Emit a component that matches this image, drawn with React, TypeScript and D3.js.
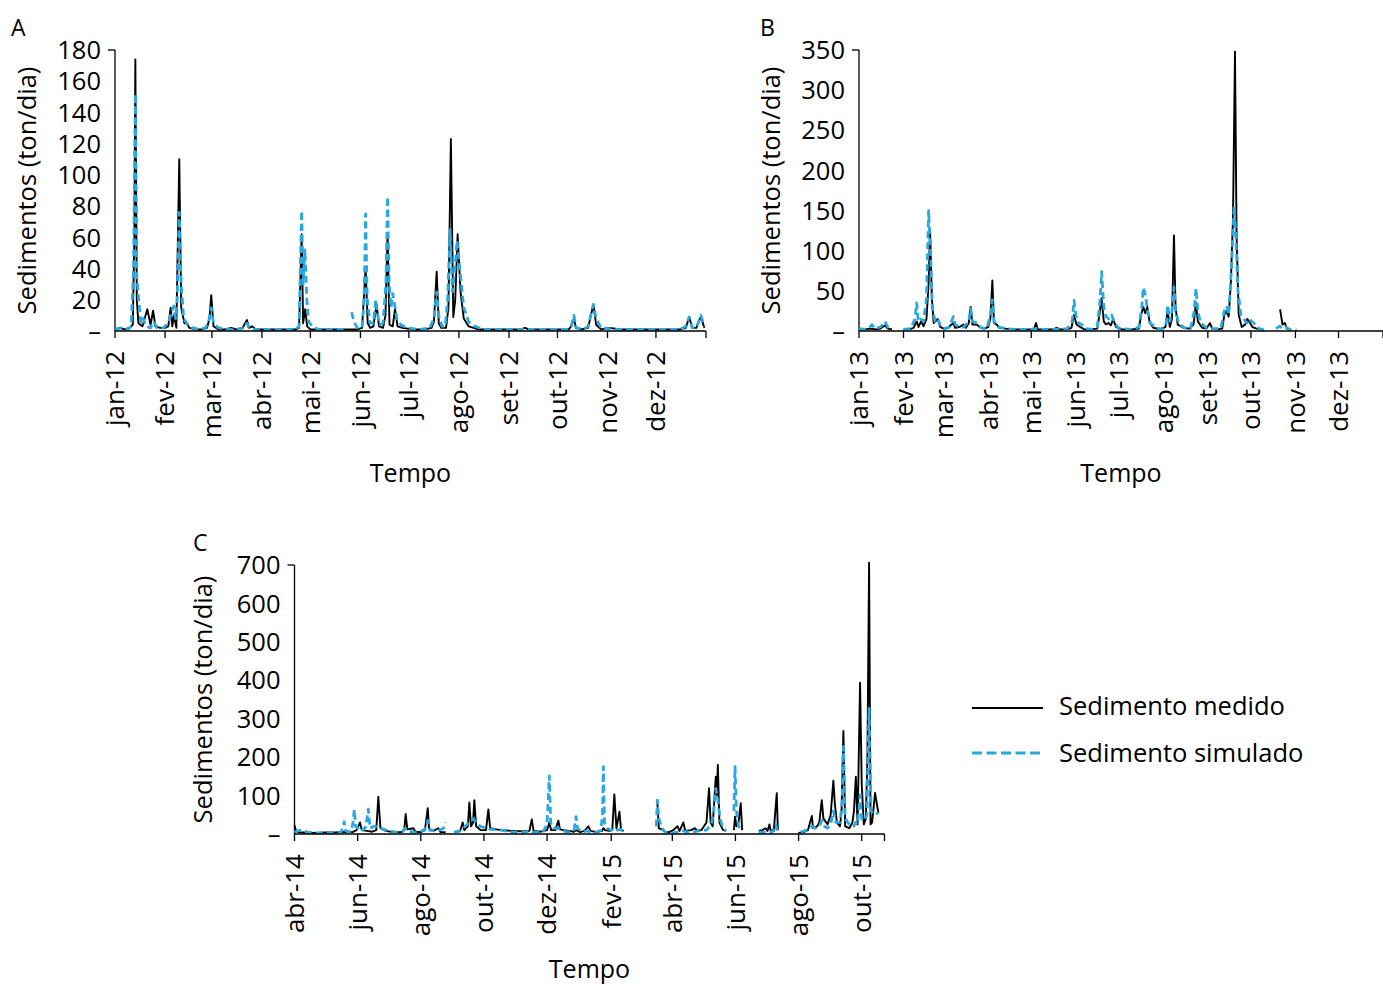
import React from "react";
import * as d3 from "d3";

type Pt = [number, number | null];

// ---------- Panel A (2012) : [day since 1 Jan 2012, ton/dia] ----------
const A_MEASURED: Pt[] = [
  [0,1],[3,2],[6,1],[9,2],[11,4],[12,60],[12.6,174],[13.5,20],[14.5,5],[17,3],[20,14],[22,4],[23.6,13],[25,3],[28,2],[31,2],[33,3],[34.5,15],[35.5,3],[36.5,10],[38,2],[39.8,110],[41,15],[43,5],[44.5,5],[46,2],[50,1],[54,1],[57,2],[58.5,8],[59.6,23],[61,3],[64,1],[68,1],[72,2],[75,1],[79,2],[81.7,7],[83,2],[85,3],[87,1],[95,1],[100,1],[104,1],[108,1],[112,1],[114,2],[115.6,62],[116.5,5],[117.8,14],[119,3],[121,1],[130,1],[140,1],[150,1],[153,2],[155.2,40],[156.5,5],[158,2],[160,3],[162,17],[163.5,3],[166,2],[167.5,10],[168.8,62],[170,4],[172,3],[173.4,14],[175,3],[178,2],[185,1],[192,1],[196,2],[197.5,6],[199.2,38],[200.5,5],[202,2],[205,2],[206.5,15],[208,123],[209.5,9],[210.7,20],[212.2,62],[214,25],[216,8],[219,3],[225,1],[235,1],[245,1],[251,1],[254,2],[256,1],[265,1],[275,1],[281,1],[282.5,3],[284.2,8],[285.5,2],[289,1],[293,2],[296.2,17],[298,4],[301,1],[306,2],[314,1],[320,1],[330,1],[340,1],[350,1],[353.5,2],[355.6,9],[357.5,2],[360,2],[362.8,9],[365,2]
];
const A_SIMULATED: Pt[] = [
  [0,1],[4,2],[8,1],[10,3],[11.5,40],[12.6,152],[13.5,35],[14.5,22],[16,5],[17.5,8],[19,3],[22,2],[24,6],[26,2],[30,2],[33,5],[35,12],[36.5,16],[37.5,8],[38.5,20],[39.8,76],[41,30],[42.5,8],[45,4],[48,2],[52,1],[56,2],[58,6],[59.6,15],[61,5],[64,2],[70,1],[75,1],[80,2],[81.7,5],[83,2],[86,1],[95,1],[105,1],[112,1],[114,3],[115.6,77],[116.5,30],[117.6,52],[118.8,20],[120,6],[122,3],[126,1],[135,1],[143,1],[145,null],[146.5,12],[148,6],[150,2],[153,2],[154.3,20],[155.2,75],[156.2,20],[158,5],[160,5],[161.5,20],[162.7,10],[164,4],[166,5],[167.8,30],[168.8,86],[169.8,30],[171,15],[172,24],[173,18],[174.5,8],[177,4],[181,2],[188,1],[195,2],[197.5,8],[199.2,25],[200.5,10],[202.5,3],[204.5,3],[206,20],[207.5,65],[209,25],[210.5,40],[211.8,58],[213.5,40],[216,15],[219,6],[223,3],[228,1],[240,1],[250,1],[254,1],[260,1],[270,1],[280,1],[282.5,3],[284.2,10],[285.5,2],[290,1],[293,3],[296.2,17],[298,8],[301,2],[310,1],[320,1],[330,1],[340,1],[350,1],[353.5,3],[355.6,9],[357.5,2],[360,2],[362.8,10],[365,3]
];
const A_Y_TICKS = [0, 20, 40, 60, 80, 100, 120, 140, 160, 180];
const A_MONTHS = ["jan-12","fev-12","mar-12","abr-12","mai-12","jun-12","jul-12","ago-12","set-12","out-12","nov-12","dez-12"];

// ---------- Panel B (2013) : [day since 1 Jan 2013, ton/dia] ----------
const B_MEASURED: Pt[] = [
  [0,3],[4,2],[8,3],[12,2],[15,3],[18,7],[20,3],[23,2],[24,null],[31,2],[35,2],[38,4],[40.2,12],[41.5,5],[43.2,12],[45,6],[47,15],[48.5,60],[49.5,126],[50.8,40],[52,10],[54.8,15],[56.5,5],[59,3],[62,4],[65.7,10],[67,4],[70,5],[72.7,8],[74.5,4],[76.5,10],[77.8,30],[79,8],[82,8],[84,5],[87,3],[90,5],[91.5,15],[92.9,63],[94,10],[96,8],[98,4],[102,3],[108,2],[115,2],[120,2],[122,3],[123.3,10],[124.5,2],[130,2],[135,2],[137.7,4],[140,2],[145,2],[148,4],[149.8,20],[151.5,8],[154,5],[157,2],[162,2],[166,3],[167.5,20],[169,41],[170.5,12],[172,8],[173.7,10],[175.5,7],[177,15],[179,5],[183,2],[190,2],[195,3],[196.5,20],[198,30],[199.5,22],[200.8,30],[202.5,10],[205,4],[210,2],[213.5,5],[215,25],[216.5,5],[218,15],[219.4,119],[220.5,30],[222,8],[226,4],[230,3],[233,8],[234.7,35],[236,12],[239,4],[242,3],[244.5,10],[246,3],[250,2],[253,3],[254.5,20],[256,25],[257.5,18],[259,60],[260.5,140],[261.9,348],[263,120],[264.5,20],[266.6,5],[269,8],[270.5,15],[272.4,10],[274,5],[277,3],[281,2],[284,null],[293.3,27],[295,8],[296.7,10],[298,3],[301,1]
];
const B_SIMULATED: Pt[] = [
  [0,3],[4,2],[7,4],[9,8],[11,3],[15,5],[18,12],[20,5],[23,2],[24,null],[31,2],[36,3],[39,15],[40.2,35],[41.3,12],[43,15],[45,12],[47,40],[48.5,150],[49.8,100],[51,30],[53,12],[55,15],[57,5],[60,3],[63,5],[65.7,18],[67,8],[70,5],[73,5],[76.5,12],[77.8,28],[79,12],[82,10],[85,4],[89,3],[91.5,20],[92.9,39],[94,12],[97,5],[102,3],[110,2],[120,2],[123,3],[130,2],[138,2],[145,3],[148.5,12],[149.8,38],[151,20],[153,10],[155,8],[158,3],[162,2],[166,5],[168,40],[169,74],[170.5,30],[172,18],[174,15],[176,20],[178,10],[181,3],[190,2],[195,5],[197,30],[198,54],[199.5,45],[201,25],[203,10],[207,3],[212,3],[214,10],[215,32],[216.5,12],[218,25],[219.4,55],[220.5,25],[223,8],[227,4],[231,3],[233.5,25],[234.7,53],[236,25],[238,10],[242,4],[247,3],[252,3],[254.5,25],[256,31],[257.5,20],[259.5,80],[261.3,155],[262.5,120],[264,50],[266,20],[268,15],[270,10],[271.5,15],[273,13],[275,10],[277,5],[280,2],[284,1],[284.5,null],[290.5,3],[293,6],[295,3],[297,5],[300,2],[304.9,1]
];
const B_Y_TICKS = [0, 50, 100, 150, 200, 250, 300, 350];
const B_MONTHS = ["jan-13","fev-13","mar-13","abr-13","mai-13","jun-13","jul-13","ago-13","set-13","out-13","nov-13","dez-13"];

// ---------- Panel C (2014-2015) : [day since 1 Apr 2014, ton/dia] ----------
const C_MEASURED: Pt[] = [
  [0,23],[1.5,8],[4,5],[10,4],[20,3],[30,4],[40,4],[46,6],[50,5],[56,5],[60,10],[63.3,30],[65,10],[70,8],[75,6],[79,10],[81,97],[83,15],[88,8],[95,5],[103,5],[106,10],[107.4,52],[109,12],[114.8,15],[117,6],[122,5],[126,10],[128.7,67],[130,15],[134,8],[139,15],[141,5],[146,5],[150,null],[156,5],[160,8],[162.5,30],[164,10],[167.5,20],[168.9,82],[170.5,20],[172.5,30],[173.7,88],[175.5,20],[180,10],[185,10],[187.3,64],[189,15],[195,12],[200,10],[210,8],[220,7],[227,8],[229.2,38],[231,8],[238,6],[244,10],[246.2,30],[248,10],[252,10],[254.9,35],[256.5,12],[260,10],[265,8],[270,6],[272,10],[276,5],[280,8],[283.9,20],[286,8],[292,5],[297,8],[298.4,15],[300,10],[304,8],[307,10],[309,103],[311,15],[313.9,58],[315.5,10],[318,8],[319,null],[330.6,5],[331.5,null],[350.6,80],[352,15],[355,12],[358,6],[362,5],[366,10],[370,20],[372,8],[375.7,30],[377.5,8],[383,10],[387,15],[389,8],[393,10],[398,30],[400.5,119],[402,30],[404,20],[407,149],[408,100],[409,180],[410.5,30],[414,10],[417,8],[419,null],[424.5,10],[425.6,45],[427,20],[429,30],[431.1,80],[432.5,10],[434,null],[448.5,8],[452,10],[455,15],[457,8],[458.8,25],[460,10],[463,8],[465.9,106],[467,10],[468,null],[486.8,3],[492,5],[496,10],[499.8,47],[501,15],[505,20],[507,30],[509.4,88],[511,40],[515,25],[518,50],[520.6,139],[522,80],[524,30],[527,20],[528.5,60],[530.3,268],[532,20],[536,15],[539,30],[540.5,60],[542.3,149],[544,25],[546.4,394],[548,130],[550,25],[552,40],[553.5,200],[555.1,706],[556.5,25],[558,30],[560.9,107],[562.5,80],[564.1,55]
];
const C_SIMULATED: Pt[] = [
  [0,5],[3,8],[8.5,10],[12,5],[20,3],[30,3],[40,3],[45,5],[47,20],[48,32],[49.5,8],[53,5],[55,8],[56.5,30],[57.8,64],[59,20],[61,15],[63,20],[66,10],[69,20],[71.3,65],[73,15],[77,20],[80,20],[84,15],[90,8],[98,5],[104,5],[107,15],[109,8],[115,5],[120,5],[125,10],[127.5,20],[128.7,35],[130.5,10],[135,8],[140,10],[144,15],[146.1,30],[147,null],[154,5],[160,8],[165,20],[170,35],[173,40],[176,25],[180,20],[185,15],[190,12],[200,10],[210,5],[220,4],[228,8],[230,5],[240,5],[244,25],[246.2,151],[247.5,30],[250,15],[254.9,15],[258,8],[265,5],[270,10],[272,45],[273.5,15],[278,5],[283,8],[286,5],[292,5],[296,10],[297.5,50],[298.4,175],[299.5,30],[302,15],[306,10],[309,15],[312,10],[315,12],[318,8],[319,null],[349.5,20],[350.6,88],[352,40],[355,15],[358,5],[365,3],[370,5],[375,8],[380,5],[385,5],[390,8],[395,10],[398,10],[401,20],[403,30],[405,60],[407,118],[409,90],[411,40],[414,15],[417,8],[419,null],[424.5,60],[425.6,175],[427,60],[429,20],[431,15],[432.5,8],[434,null],[448.5,5],[452,5],[456,3],[458,5],[461,3],[465,25],[466.5,5],[468,null],[489,5],[495,10],[499.8,20],[503,15],[507,20],[509.4,35],[512,20],[515,15],[518,25],[520.6,60],[523,30],[527,30],[529,80],[530.3,227],[532,40],[536,25],[540,20],[542.3,30],[544,25],[546.4,101],[548,40],[551,35],[553,50],[555.1,327],[557,60],[560,50],[564.1,55]
];
const C_Y_TICKS = [0, 100, 200, 300, 400, 500, 600, 700];
const C_MONTHS = ["abr-14","jun-14","ago-14","out-14","dez-14","fev-15","abr-15","jun-15","ago-15","out-15"];

const SERIES_NAMES = ["Sedimento medido", "Sedimento simulado"];
const Y_TITLE = "Sedimentos (ton/dia)";
const X_TITLE = "Tempo";

const FONT = "'Open Sans', sans-serif";
const BLUE = "#29a8e0";
const DAY = 86400000;

type PanelProps = {
  letter: string;
  measured: Pt[];
  simulated: Pt[];
  yTicks: number[];
  months: string[];
  start: Date;
  end: Date;
  monthStep: number;
  x0: number; x1: number; yBottom: number; yTop: number;
  letterX: number; letterY: number;
  titleX: number; tempoY: number;
};

function Panel(p: PanelProps) {
  const x = d3.scaleTime().domain([p.start, p.end]).range([p.x0, p.x1]);
  const y = d3.scaleLinear().domain([0, p.yTicks[p.yTicks.length - 1]]).range([p.yBottom, p.yTop]);
  const toDate = (d: number) => new Date(p.start.getTime() + d * DAY);
  const line = d3
    .line<Pt>()
    .defined((d) => d[1] != null)
    .x((d) => x(toDate(d[0])))
    .y((d) => y(d[1] as number));
  const tickDates = d3.timeMonth.range(p.start, p.end, p.monthStep);
  const xEnd = Math.min(p.x1, 1383);
  const midX = (p.x0 + p.x1) / 2;
  return (
    <g>
      <text x={p.letterX} y={p.letterY} fontSize={23} fontFamily={FONT} fill="#000">{p.letter}</text>
      {/* y axis */}
      <line x1={p.x0} x2={p.x0} y1={p.yBottom} y2={p.yTop} stroke="#000" strokeWidth={1.3} />
      <line x1={p.x0 - 7} x2={p.x0} y1={p.yTop} y2={p.yTop} stroke="#000" strokeWidth={1.3} />
      {p.yTicks.map((t) => (
        <text key={t} x={p.x0 - 14} y={y(t)} dy="0.36em" textAnchor="end" fontSize={25.5} fontFamily={FONT} fill="#000">
          {t === 0 ? "–" : String(t)}
        </text>
      ))}
      <text
        transform={`translate(${p.titleX},${(p.yBottom + p.yTop) / 2}) rotate(-90)`}
        textAnchor="middle" dy="0.36em" fontSize={25.5} fontFamily={FONT} fill="#000"
      >{Y_TITLE}</text>
      {/* series */}
      <path d={line(p.measured) || ""} fill="none" stroke="#000" strokeWidth={1.9} strokeLinejoin="round" />
      <path d={line(p.simulated) || ""} fill="none" stroke={BLUE} strokeWidth={2.8} strokeDasharray="7,4" strokeLinejoin="round" />
      {/* x axis */}
      <line x1={p.x0} x2={xEnd} y1={p.yBottom} y2={p.yBottom} stroke="#000" strokeWidth={1.3} />
      {[...tickDates, p.end].map((d, i) => (
        <line key={i} x1={x(d)} x2={x(d)} y1={p.yBottom} y2={p.yBottom + 7} stroke="#000" strokeWidth={1.3} />
      ))}
      {tickDates.map((d, i) => (
        <text key={i}
          transform={`translate(${x(d)},${p.yBottom + 20}) rotate(-90)`}
          textAnchor="end" dy="0.36em" fontSize={26} fontFamily={FONT} fill="#000"
        >{p.months[i]}</text>
      ))}
      <text x={midX} y={p.tempoY} textAnchor="middle" dy="0.36em" fontSize={25} fontFamily={FONT} fill="#000">{X_TITLE}</text>
    </g>
  );
}

export default function App() {
  return (
    <svg width={1383} height={985} style={{ position: "absolute", left: 0, top: 0, background: "#fff" }}>
      <Panel letter="A" measured={A_MEASURED} simulated={A_SIMULATED} yTicks={A_Y_TICKS} months={A_MONTHS}
        start={new Date(2012, 0, 1)} end={new Date(2013, 0, 1)} monthStep={1}
        x0={115} x1={706} yBottom={331} yTop={50} letterX={11} letterY={36} titleX={27} tempoY={473} />
      <Panel letter="B" measured={B_MEASURED} simulated={B_SIMULATED} yTicks={B_Y_TICKS} months={B_MONTHS}
        start={new Date(2013, 0, 1)} end={new Date(2014, 0, 1)} monthStep={1}
        x0={859} x1={1383} yBottom={331} yTop={50} letterX={760} letterY={36} titleX={771} tempoY={473} />
      <Panel letter="C" measured={C_MEASURED} simulated={C_SIMULATED} yTicks={C_Y_TICKS} months={C_MONTHS}
        start={new Date(2014, 3, 1)} end={new Date(2015, 9, 23)} monthStep={2}
        x0={294.5} x1={884.5} yBottom={834} yTop={565} letterX={193} letterY={551} titleX={203} tempoY={969} />
      {/* legend */}
      <line x1={972} x2={1043} y1={708} y2={708} stroke="#000" strokeWidth={2} />
      <text x={1059} y={706} dy="0.36em" fontSize={25.5} fontFamily={FONT} fill="#000">{SERIES_NAMES[0]}</text>
      <line x1={972} x2={1043} y1={753} y2={753} stroke={BLUE} strokeWidth={3} strokeDasharray="10,4.5" />
      <text x={1059} y={753} dy="0.36em" fontSize={25.5} fontFamily={FONT} fill="#000">{SERIES_NAMES[1]}</text>
    </svg>
  );
}
